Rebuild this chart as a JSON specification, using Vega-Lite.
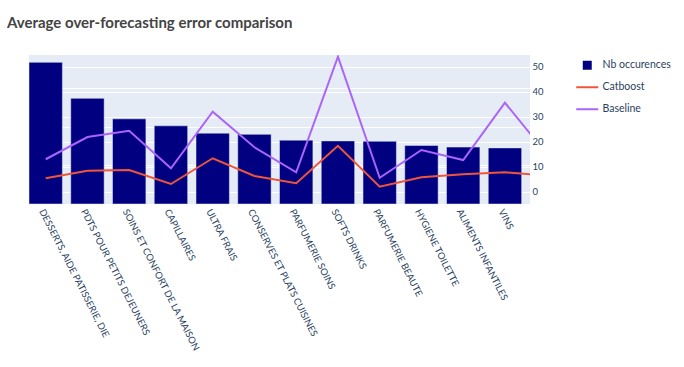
{
  "$schema": "https://vega.github.io/schema/vega-lite/v6.json",
  "width": 501,
  "height": 149,
  "autosize": {"type": "none"},
  "padding": {"left": 29, "top": 55, "right": 154, "bottom": 163},
  "background": "white",
  "title": {
    "text": "Average over-forecasting error comparison",
    "anchor": "start",
    "frame": "group",
    "dx": -22,
    "offset": 12,
    "baseline": "alphabetic",
    "font": "Lato",
    "fontSize": 15,
    "fontWeight": "bold",
    "color": "#444444"
  },
  "config": {
    "view": {"fill": "#E5ECF6", "stroke": null},
    "axis": {
      "labelFont": "Lato",
      "labelColor": "#2a3f5f",
      "gridColor": "white",
      "gridWidth": 1,
      "domain": false,
      "ticks": false,
      "title": null
    },
    "legend": {
      "labelFont": "Lato",
      "title": null,
      "orient": "none",
      "legendX": 553,
      "legendY": 5,
      "labelFontSize": 10.5,
      "labelColor": "#2a3f5f",
      "symbolSize": 484,
      "rowPadding": 11,
      "labelOffset": 10
    }
  },
  "datasets": {
    "bars": [
      {"category": "DESSERTS, AIDE PATISSERIE, DIE", "order": 0, "nb": 366},
      {"category": "PDTS POUR PETITS DEJEUNERS", "order": 1, "nb": 273},
      {"category": "SOINS ET CONFORT DE LA MAISON", "order": 2, "nb": 220},
      {"category": "CAPILLAIRES", "order": 3, "nb": 202},
      {"category": "ULTRA FRAIS", "order": 4, "nb": 183},
      {"category": "CONSERVES ET PLATS CUISINES", "order": 5, "nb": 180},
      {"category": "PARFUMERIE SOINS", "order": 6, "nb": 165},
      {"category": "SOFTS DRINKS", "order": 7, "nb": 163},
      {"category": "PARFUMERIE BEAUTE", "order": 8, "nb": 162},
      {"category": "HYGIENE TOILETTE", "order": 9, "nb": 151},
      {"category": "ALIMENTS INFANTILES", "order": 10, "nb": 147},
      {"category": "VINS", "order": 11, "nb": 145}
    ],
    "lines": [
      {"category": "DESSERTS, AIDE PATISSERIE, DIE", "order": 0, "series": "Catboost", "value": 5.4},
      {"category": "PDTS POUR PETITS DEJEUNERS", "order": 1, "series": "Catboost", "value": 8.4},
      {"category": "SOINS ET CONFORT DE LA MAISON", "order": 2, "series": "Catboost", "value": 8.7},
      {"category": "CAPILLAIRES", "order": 3, "series": "Catboost", "value": 3.1},
      {"category": "ULTRA FRAIS", "order": 4, "series": "Catboost", "value": 13.4},
      {"category": "CONSERVES ET PLATS CUISINES", "order": 5, "series": "Catboost", "value": 6.3},
      {"category": "PARFUMERIE SOINS", "order": 6, "series": "Catboost", "value": 3.4},
      {"category": "SOFTS DRINKS", "order": 7, "series": "Catboost", "value": 18.4},
      {"category": "PARFUMERIE BEAUTE", "order": 8, "series": "Catboost", "value": 2.0},
      {"category": "HYGIENE TOILETTE", "order": 9, "series": "Catboost", "value": 5.8},
      {"category": "ALIMENTS INFANTILES", "order": 10, "series": "Catboost", "value": 7.0},
      {"category": "VINS", "order": 11, "series": "Catboost", "value": 7.8},
      {"category": "…", "order": 12, "series": "Catboost", "value": 6.5},
      {"category": "DESSERTS, AIDE PATISSERIE, DIE", "order": 0, "series": "Baseline", "value": 13.0},
      {"category": "PDTS POUR PETITS DEJEUNERS", "order": 1, "series": "Baseline", "value": 21.9},
      {"category": "SOINS ET CONFORT DE LA MAISON", "order": 2, "series": "Baseline", "value": 24.4},
      {"category": "CAPILLAIRES", "order": 3, "series": "Baseline", "value": 9.4},
      {"category": "ULTRA FRAIS", "order": 4, "series": "Baseline", "value": 32.0},
      {"category": "CONSERVES ET PLATS CUISINES", "order": 5, "series": "Baseline", "value": 17.8},
      {"category": "PARFUMERIE SOINS", "order": 6, "series": "Baseline", "value": 7.8},
      {"category": "SOFTS DRINKS", "order": 7, "series": "Baseline", "value": 54.0},
      {"category": "PARFUMERIE BEAUTE", "order": 8, "series": "Baseline", "value": 5.6},
      {"category": "HYGIENE TOILETTE", "order": 9, "series": "Baseline", "value": 16.7},
      {"category": "ALIMENTS INFANTILES", "order": 10, "series": "Baseline", "value": 12.7},
      {"category": "VINS", "order": 11, "series": "Baseline", "value": 35.6},
      {"category": "…", "order": 12, "series": "Baseline", "value": 15.1}
    ]
  },
  "layer": [
    {
      "data": {"name": "bars"},
      "mark": {"type": "bar", "size": 33.4, "stroke": "#E5ECF6", "strokeWidth": 0.5},
      "encoding": {
        "x": {
          "field": "order",
          "type": "quantitative",
          "scale": {"domain": [-0.4, 11.6], "nice": false, "zero": false, "padding": 0},
          "axis": {
            "values": [0, 1, 2, 3, 4, 5, 6, 7, 8, 9, 10, 11],
            "labelExpr": "['DESSERTS, AIDE PATISSERIE, DIE','PDTS POUR PETITS DEJEUNERS','SOINS ET CONFORT DE LA MAISON','CAPILLAIRES','ULTRA FRAIS','CONSERVES ET PLATS CUISINES','PARFUMERIE SOINS','SOFTS DRINKS','PARFUMERIE BEAUTE','HYGIENE TOILETTE','ALIMENTS INFANTILES','VINS'][datum.value]",
            "labelAngle": 63,
            "labelAlign": "left",
            "labelBaseline": "top",
            "labelPadding": 3,
            "labelFontSize": 9.5,
            "labelOverlap": false,
            "labelFlush": false,
            "labelBound": false,
            "labelLimit": 300,
            "grid": false
          }
        },
        "y": {
          "field": "nb",
          "type": "quantitative",
          "scale": {"domain": [0, 385], "nice": false},
          "axis": {"orient": "left", "values": [100, 200, 300], "labels": false, "grid": true}
        },
        "color": {
          "datum": "Nb occurences",
          "type": "nominal",
          "scale": {"domain": ["Nb occurences", "Catboost", "Baseline"], "range": ["#000080", "#EF553B", "#AB63FA"]},
          "legend": {
            "title": null,
            "encode": {
              "symbols": {
                "update": {
                  "shape": {"signal": "datum.value === 'Nb occurences' ? 'square' : 'stroke'"},
                  "size": {"signal": "datum.value === 'Nb occurences' ? 72 : 484"},
                  "fill": {"signal": "datum.value === 'Nb occurences' ? '#000080' : 'transparent'"},
                  "stroke": {"signal": "datum.value === 'Nb occurences' ? '#E5ECF6' : (datum.value === 'Catboost' ? '#EF553B' : '#AB63FA')"},
                  "strokeWidth": {"signal": "datum.value === 'Nb occurences' ? 0.5 : 2"}
                }
              }
            }
          }
        }
      }
    },
    {
      "data": {"name": "lines"},
      "mark": {"type": "line", "strokeWidth": 2, "clip": true},
      "encoding": {
        "x": {"field": "order", "type": "quantitative", "scale": {"domain": [-0.4, 11.6], "nice": false, "zero": false, "padding": 0}},
        "y": {
          "field": "value",
          "type": "quantitative",
          "scale": {"domain": [-4.9, 54.7], "nice": false, "zero": false},
          "axis": {"orient": "right", "values": [0, 10, 20, 30, 40, 50], "labelPadding": 2, "labelFontSize": 9.5, "grid": true}
        },
        "color": {
          "field": "series",
          "type": "nominal",
          "legend": {
            "title": null,
            "encode": {
              "symbols": {
                "update": {
                  "shape": {"signal": "datum.value === 'Nb occurences' ? 'square' : 'stroke'"},
                  "size": {"signal": "datum.value === 'Nb occurences' ? 72 : 484"},
                  "fill": {"signal": "datum.value === 'Nb occurences' ? '#000080' : 'transparent'"},
                  "stroke": {"signal": "datum.value === 'Nb occurences' ? '#E5ECF6' : (datum.value === 'Catboost' ? '#EF553B' : '#AB63FA')"},
                  "strokeWidth": {"signal": "datum.value === 'Nb occurences' ? 0.5 : 2"}
                }
              }
            }
          }
        }
      }
    }
  ],
  "resolve": {"scale": {"y": "independent"}}
}
